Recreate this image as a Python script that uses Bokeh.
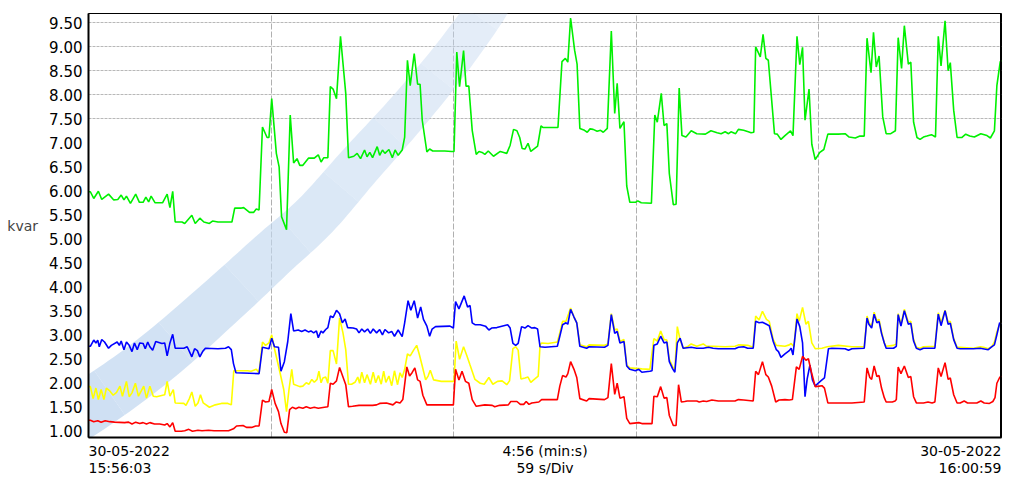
import numpy as np
from bokeh.plotting import figure
from bokeh.layouts import column
from bokeh.models import Range1d, FixedTicker, PolyAnnotation, NumeralTickFormatter, Span
from bokeh.core.properties import value
from bokeh.embed import file_html
from bokeh.resources import INLINE

# ---------------- data (time in seconds from 15:56:03, value in kvar) ----------------
green = [(0,5.98),(0.6,5.98),(1.7,5.84),(3.2,5.99),(4.3,5.82),(6.5,5.93),(8.2,5.81),(9.5,5.82),(10.6,5.91),
 (11.5,5.81),(12.3,5.89),(13.6,5.74),(15.3,5.93),(16.5,5.76),(17.7,5.76),(18.6,5.87),(19.5,5.77),(20.3,5.89),
 (21.6,5.75),(24.0,5.75),(25.5,5.93),(26.4,5.65),(27.3,5.99),(28.1,5.35),(30.3,5.35),(31.2,5.32),(33.5,5.49),
 (34.6,5.32),(36.1,5.43),(37.4,5.35),(39.2,5.32),(40.2,5.37),(42.0,5.35),(46.5,5.35),(47.4,5.64),(49.6,5.64),
 (50.3,5.65),(52.2,5.55),(53.5,5.55),(54.4,5.62),(55.3,5.60),(56.4,7.33),(57.9,7.11),(58.5,7.11),(59.4,7.92),
 (60.9,6.78),(61.8,6.50),(62.6,5.46),(64.2,5.19),(65.4,7.58),(66.5,6.58),(67.6,6.67),(68.5,6.53),(69.5,6.53),
 (71.3,6.68),(73.2,6.68),(74.5,6.75),(75.4,6.60),(76.3,6.69),(77.6,6.69),(78.4,8.17),(79.3,8.12),(80.4,7.92),
 (81.7,9.22),(83.4,8.03),(84.3,6.69),(86.0,6.72),(87.1,6.78),(88.2,6.67),(89.5,6.85),(90.3,6.71),(91.2,6.80),
 (92.1,6.69),(93.6,6.92),(94.4,6.74),(95.3,6.85),(96.1,6.78),(97.4,6.86),(98.5,6.69),(99.4,6.85),(100.4,6.74),
 (101.7,6.85),(102.5,7.12),(103.4,8.72),(104.3,8.19),(105.6,8.86),(106.7,8.22),(107.5,8.22),(108.2,7.47),
 (109.7,6.81),(110.6,6.87),(111.6,6.83),(115.5,6.83),(117.7,6.82),(118.5,6.82),(119.4,8.89),(120.3,8.17),
 (121.6,8.92),(122.4,8.18),(123.3,8.18),(124.4,7.26),(125.7,6.76),(126.6,6.82),(127.6,6.80),(128.5,6.76),
 (129.6,6.83),(131.3,6.72),(133.5,6.82),(134.6,6.80),(135.6,6.78),(136.7,6.95),(137.8,7.28),(138.9,7.25),
 (139.8,7.11),(140.6,6.88),(141.5,6.87),(142.5,6.99),(143.4,6.82),(145.6,6.93),(146.7,7.35),(147.3,7.32),
 (152.2,7.32),(153.5,8.69),(154.6,8.76),(155.4,8.68),(156.3,9.60),(157.6,8.93),(158.4,8.64),(159.3,7.30),
 (160.8,7.26),(161.7,7.22),(162.6,7.29),(163.6,7.28),(164.9,7.24),(166.0,7.26),(166.9,7.22),(168.2,7.30),
 (169.5,9.33),(170.6,7.61),(171.4,8.24),(172.3,7.30),(173.6,7.44),(174.5,6.10),(175.5,5.76),(177.3,5.76),
 (178.1,5.79),(179.2,5.75),(182.5,5.74),(183.6,7.58),(184.4,7.43),(185.7,8.03),(186.6,7.36),(187.5,7.40),
 (188.3,6.36),(189.6,5.71),(190.5,5.72),(191.5,8.14),(192.4,7.15),(193.7,7.12),(195.4,7.25),(197.2,7.19),
 (200.0,7.18),(201.8,7.25),(203.8,7.21),(205.1,7.19),(206.4,7.23),(207.5,7.19),(208.3,7.23),(209.8,7.19),
 (210.7,7.28),(212.4,7.26),(213.9,7.23),(214.8,7.21),(215.7,7.22),(216.3,9.00),(217.8,8.79),(218.7,9.26),
 (219.6,8.76),(220.4,8.72),(222.4,7.19),(223.3,7.18),(224.5,7.07),(225.8,7.15),(227.6,7.25),(228.4,7.15),
 (229.7,9.22),(230.6,8.63),(231.5,8.99),(232.3,7.47),(233.6,8.12),(234.5,6.97),(235.6,6.65),(237.1,6.80),
 (238.4,6.86),(239.7,7.18),(243.1,7.18),(245.3,7.19),(246.6,7.12),(248.6,7.10),(250.1,7.14),(251.5,7.14),
 (252.4,9.18),(253.7,8.46),(254.5,9.30),(255.4,8.58),(256.3,8.81),(257.5,7.54),(258.6,7.19),(260.1,7.19),
 (261.6,7.25),(262.5,9.19),(263.6,8.55),(264.5,9.44),(265.8,8.64),(266.6,8.68),(267.5,7.43),(268.6,7.11),
 (269.6,7.07),(270.7,7.12),(271.8,7.14),(273.3,7.17),(274.6,7.12),(275.5,9.22),(276.4,8.60),(277.7,9.54),
 (278.7,8.50),(279.4,8.67),(280.5,7.68),(281.6,7.11),(283.1,7.11),(284.4,7.18),(285.7,7.14),(287.2,7.12),
 (289.3,7.19),(291.3,7.15),(292.4,7.10),(293.7,7.25),(294.5,8.19),(295.6,8.69),(296.0,8.72)]

yellow = [(0,1.92),(0.6,1.92),(1.5,1.67),(2.4,1.89),(3.2,1.65),(4.1,1.86),(5.0,1.65),(5.8,1.89),(6.9,1.83),
 (8.0,1.74),(9.1,1.80),(10.2,1.93),(11.0,1.72),(12.3,2.03),(13.2,1.71),(14.1,1.79),(15.2,1.99),(16.2,1.72),
 (17.1,1.83),(17.9,1.93),(18.8,1.68),(19.9,1.93),(21.0,1.72),(22.1,1.71),(24.7,1.75),(25.5,2.03),(26.4,1.72),
 (27.5,1.86),(28.1,1.58),(30.9,1.57),(31.6,1.53),(32.7,1.67),(33.5,1.81),(34.6,1.51),(35.5,1.58),(36.3,1.75),
 (37.2,1.58),(39.2,1.49),(41.1,1.54),(43.1,1.57),(45.2,1.57),(46.3,1.54),(47.1,2.25),(51.6,2.25),(52.7,2.24),
 (54.4,2.28),(55.3,2.21),(56.4,2.85),(57.4,2.78),(58.5,2.83),(59.4,3.00),(60.3,2.71),(61.6,2.35),(62.4,2.12),
 (63.3,1.86),(64.2,1.40),(65.0,1.86),(65.9,2.28),(66.5,1.97),(68.5,1.92),(69.5,1.93),(70.6,2.00),(71.5,1.97),
 (72.4,2.07),(73.2,2.01),(74.1,2.07),(74.7,2.24),(75.4,2.00),(76.0,2.10),(76.9,2.12),(77.6,1.99),(78.4,2.67),
 (79.3,2.67),(80.4,2.39),(81.4,3.35),(82.5,3.04),(83.4,2.69),(84.3,1.97),(85.3,1.97),(86.4,2.01),(87.3,2.12),
 (87.9,1.99),(88.6,2.22),(89.5,2.00),(90.3,2.17),(91.4,1.97),(92.3,2.22),(93.1,2.00),(94.0,2.15),(94.9,1.97),
 (95.7,2.24),(96.4,2.01),(97.4,2.14),(98.3,1.94),(99.2,2.25),(100.2,1.96),(101.0,2.21),(101.7,2.11),(102.5,2.28),
 (103.4,2.60),(104.3,2.56),(105.4,2.68),(106.4,2.78),(107.3,2.58),(108.2,2.35),(109.3,2.06),(110.1,2.14),
 (110.8,2.26),(111.9,2.06),(114.4,2.03),(116.6,2.03),(118.5,2.03),(119.2,2.87),(120.3,2.49),(121.6,2.75),
 (122.7,2.56),(123.7,2.37),(125.3,2.07),(127.0,1.99),(128.3,1.97),(129.8,2.11),(131.1,1.97),(132.6,2.03),
 (134.1,2.04),(135.6,1.96),(136.5,2.04),(137.6,2.71),(138.5,2.75),(139.3,2.68),(140.2,2.08),(141.5,2.10),
 (142.5,2.12),(143.4,2.01),(144.7,2.08),(145.8,2.14),(146.4,2.79),(146.9,2.83),(149.0,2.82),(152.0,2.85),
 (152.8,3.04),(153.7,3.28),(154.8,3.28),(156.3,3.56),(157.4,3.37),(158.3,3.25),(159.3,2.79),(161.5,2.75),
 (162.3,2.79),(167.3,2.78),(168.4,2.81),(169.5,3.44),(170.6,3.10),(171.4,3.12),(172.3,2.86),(173.6,2.90),
 (174.5,2.37),(175.5,2.31),(179.4,2.29),(182.0,2.28),(183.3,2.92),(184.4,2.87),(185.5,3.08),(186.6,2.90),
 (187.5,2.89),(188.3,2.49),(189.4,2.33),(190.1,2.28),(190.9,3.17),(191.8,2.90),(192.8,2.72),(194.1,2.75),
 (195.4,2.81),(197.2,2.76),(199.3,2.81),(200.4,2.76),(202.5,2.76),(206.4,2.75),(209.6,2.76),(210.7,2.79),
 (213.7,2.78),(215.5,2.74),(216.3,3.39),(217.4,3.31),(218.5,3.49),(219.8,3.32),(220.7,3.28),(222.0,2.90),
 (223.0,2.78),(225.8,2.76),(227.2,2.79),(227.8,2.82),(228.7,2.75),(229.7,3.44),(230.4,3.28),(231.5,3.57),
 (232.6,3.22),(233.4,3.28),(234.5,2.83),(235.6,2.71),(237.8,2.72),(239.5,2.75),(243.1,2.78),(247.5,2.75),
 (251.5,2.75),(252.4,3.39),(253.0,3.26),(253.9,3.17),(254.7,3.47),(255.6,3.29),(256.3,3.32),(257.1,3.07),
 (258.0,2.83),(258.6,2.76),(261.0,2.78),(261.9,2.81),(262.5,3.44),(263.4,3.22),(264.5,3.53),(265.8,3.26),
 (266.6,3.28),(267.5,2.90),(268.4,2.74),(269.6,2.72),(270.7,2.75),(274.4,2.76),(275.5,3.46),(276.4,3.25),
 (277.7,3.51),(278.7,3.26),(279.4,3.28),(280.5,2.92),(281.6,2.74),(282.6,2.74),(286.9,2.72),(289.1,2.75),
 (290.2,2.74),(291.7,2.71),(292.8,2.75),(293.7,2.85),(294.5,3.06),(295.4,3.22),(296.0,3.25)]

blue = [(0,2.76),(0.6,2.76),(1.7,2.89),(2.4,2.83),(3.0,2.89),(3.5,2.75),(4.3,2.90),(5.2,2.85),(6.5,2.72),
 (7.4,2.78),(9.3,2.85),(10.0,2.78),(10.6,2.87),(11.5,2.69),(12.3,2.85),(13.2,2.78),(14.1,2.65),(14.9,2.83),
 (15.8,2.69),(16.6,2.83),(17.7,2.82),(18.4,2.71),(19.2,2.85),(19.9,2.75),(20.8,2.68),(21.8,2.86),(23.8,2.82),
 (24.7,2.83),(25.5,2.56),(26.4,2.83),(27.3,3.01),(28.1,2.72),(30.9,2.72),(32.0,2.75),(33.5,2.54),(34.4,2.71),
 (35.3,2.67),(36.1,2.54),(37.0,2.65),(37.9,2.72),(42.0,2.71),(44.4,2.72),(45.4,2.75),(46.3,2.69),(47.0,2.40),
 (47.8,2.21),(55.3,2.19),(56.4,2.74),(58.5,2.71),(59.4,2.93),(60.3,2.75),(61.6,2.74),(62.4,2.24),(63.5,2.44),
 (64.6,2.86),(65.6,3.44),(66.5,3.08),(68.0,3.10),(69.1,3.07),(70.2,3.10),(71.3,3.06),(72.1,3.08),(73.0,3.04),
 (73.9,3.08),(74.5,2.94),(75.4,3.08),(76.0,3.04),(76.9,3.11),(77.6,3.15),(78.4,3.39),(79.3,3.36),(80.4,3.51),
 (81.4,3.44),(82.3,3.25),(83.2,3.33),(84.0,3.15),(85.8,3.14),(86.9,3.12),(87.7,3.04),(88.6,3.12),(89.5,3.06),
 (90.5,3.12),(91.4,3.03),(92.3,3.12),(93.4,3.04),(94.4,3.11),(95.3,3.00),(96.1,3.11),(97.3,3.04),(98.3,3.07),
 (99.2,2.97),(100.4,3.10),(101.7,2.96),(102.5,3.25),(103.6,3.71),(104.5,3.51),(105.6,3.71),(106.7,3.35),
 (107.7,3.58),(108.6,3.32),(109.7,3.18),(110.6,2.97),(111.4,3.12),(112.5,3.17),(117.2,3.18),(118.3,3.14),
 (119.0,3.69),(120.1,3.54),(121.8,3.81),(122.9,3.58),(123.7,3.61),(124.4,3.25),(125.3,3.21),(127.0,3.21),
 (128.7,3.18),(129.8,3.10),(130.7,3.14),(132.4,3.15),(135.9,3.21),(136.7,3.14),(137.6,2.82),(138.5,2.78),
 (139.3,2.82),(140.4,3.17),(141.5,3.14),(142.5,3.19),(143.7,3.14),(144.7,3.15),(145.6,3.12),(146.4,2.75),
 (148.0,2.74),(152.0,2.76),(152.8,2.97),(153.7,3.21),(154.8,3.25),(155.4,3.22),(156.3,3.53),(157.4,3.37),
 (158.3,3.25),(159.3,2.76),(161.5,2.72),(162.3,2.75),(167.3,2.74),(168.4,2.78),(169.5,3.42),(170.6,3.03),
 (171.4,3.07),(172.3,2.83),(173.6,2.86),(174.5,2.35),(175.5,2.28),(177.3,2.25),(178.4,2.28),(179.4,2.22),
 (182.0,2.24),(182.7,2.25),(183.3,2.78),(184.4,2.81),(185.5,2.97),(186.6,2.83),(187.5,2.85),(188.3,2.44),
 (189.4,2.29),(190.1,2.22),(190.9,2.83),(191.8,2.93),(192.8,2.72),(195.4,2.74),(197.2,2.72),(199.3,2.72),
 (201.0,2.74),(202.5,2.72),(204.2,2.71),(209.6,2.71),(210.7,2.74),(212.4,2.75),(213.7,2.72),(215.5,2.72),
 (216.3,3.28),(217.4,3.25),(218.5,3.26),(219.8,3.22),(220.7,3.19),(222.0,2.86),(223.0,2.69),(223.7,2.65),
 (224.5,2.53),(225.8,2.60),(227.2,2.67),(227.8,2.72),(228.4,2.58),(229.7,3.33),(230.6,3.17),(231.5,2.83),
 (232.3,1.71),(233.0,2.08),(233.9,2.37),(234.7,2.06),(235.6,1.93),(236.7,2.00),(237.8,2.06),(238.6,2.10),
 (239.9,2.71),(241.0,2.72),(245.3,2.71),(246.4,2.68),(247.5,2.71),(251.5,2.72),(252.4,3.35),(253.0,3.22),
 (253.9,3.14),(254.7,3.43),(255.6,3.25),(256.3,3.28),(257.1,3.03),(258.0,2.83),(258.6,2.72),(261.0,2.72),
 (261.9,2.76),(262.5,3.42),(263.4,3.18),(264.5,3.50),(265.8,3.22),(266.6,3.24),(267.5,2.87),(268.4,2.72),
 (269.6,2.69),(270.7,2.72),(274.4,2.72),(275.5,3.43),(276.4,3.19),(277.7,3.50),(278.7,3.22),(279.4,3.24),
 (280.5,2.90),(281.6,2.72),(282.6,2.71),(286.9,2.71),(289.1,2.72),(291.7,2.69),(292.8,2.75),(293.7,2.79),
 (294.5,3.00),(295.4,3.25),(296.0,3.22)]

red = [(0,1.22),(0.6,1.22),(1.7,1.19),(3.0,1.21),(4.1,1.18),(5.4,1.21),(6.9,1.19),(8.4,1.18),(11.7,1.17),
 (13.0,1.18),(14.1,1.14),(15.3,1.18),(16.6,1.15),(17.7,1.17),(18.8,1.14),(19.9,1.17),(21.4,1.14),(23.1,1.14),
 (24.7,1.12),(25.5,1.15),(26.4,1.08),(27.3,1.17),(28.1,0.99),(30.1,0.99),(31.2,1.00),(32.5,1.03),(33.7,0.99),
 (35.5,1.01),(36.8,1.00),(38.9,1.01),(40.7,1.00),(45.4,1.00),(47.0,1.04),(48.0,1.10),(50.1,1.11),(51.2,1.07),
 (52.9,1.07),(54.2,1.10),(55.3,1.10),(56.4,1.64),(57.4,1.60),(58.5,1.61),(59.4,1.86),(60.5,1.57),(61.6,1.40),
 (62.4,1.15),(63.5,0.97),(64.3,0.96),(65.2,1.44),(66.1,1.49),(67.2,1.46),(68.2,1.49),(69.5,1.47),(70.6,1.50),
 (71.9,1.47),(73.2,1.49),(74.5,1.47),(76.5,1.49),(77.6,1.50),(78.4,1.99),(79.3,1.97),(80.4,2.04),(81.4,2.32),
 (82.5,2.12),(83.4,1.96),(84.3,1.50),(85.6,1.51),(87.7,1.53),(89.7,1.53),(92.1,1.53),(93.4,1.54),(94.4,1.57),
 (96.6,1.58),(98.7,1.54),(99.8,1.60),(101.0,1.58),(101.9,1.65),(103.2,2.33),(104.1,2.14),(104.9,2.21),
 (105.8,2.31),(106.7,2.06),(107.5,2.03),(108.4,1.74),(109.7,1.54),(118.3,1.54),(119.0,2.28),(120.1,2.06),
 (121.1,2.24),(122.2,2.03),(123.3,1.99),(124.4,1.65),(125.7,1.51),(128.5,1.54),(130.9,1.53),(131.7,1.50),
 (133.3,1.53),(136.1,1.54),(136.9,1.61),(138.9,1.61),(140.0,1.55),(141.1,1.55),(141.9,1.61),(142.8,1.55),
 (143.7,1.58),(146.0,1.60),(146.9,1.65),(152.0,1.65),(152.8,1.93),(153.7,2.15),(154.8,2.12),(155.4,2.19),
 (156.3,2.44),(157.4,2.28),(158.3,2.11),(159.3,1.67),(161.5,1.62),(162.3,1.67),(167.3,1.65),(168.4,1.69),
 (169.5,2.40),(170.6,1.76),(171.4,1.99),(172.3,1.68),(173.6,1.71),(174.5,1.26),(175.5,1.15),(178.4,1.17),
 (179.4,1.15),(182.7,1.15),(183.3,1.72),(184.4,1.71),(185.5,1.92),(186.6,1.68),(187.5,1.69),(188.3,1.32),
 (189.6,1.11),(190.5,1.11),(191.3,1.96),(192.2,1.60),(193.3,1.61),(194.1,1.62),(197.2,1.62),(198.0,1.60),
 (199.3,1.62),(200.4,1.61),(202.1,1.64),(204.2,1.62),(209.6,1.62),(210.7,1.65),(212.4,1.64),(215.5,1.62),
 (216.3,2.24),(217.2,2.17),(218.5,2.44),(219.6,2.17),(220.4,2.12),(221.5,1.93),(222.8,1.60),(223.9,1.64),
 (225.8,1.65),(227.2,1.64),(228.2,1.65),(229.5,2.33),(230.4,2.28),(231.5,2.55),(232.6,2.47),(233.4,2.50),
 (234.3,2.24),(235.6,1.92),(236.9,1.93),(237.8,1.94),(238.6,1.89),(239.7,1.58),(242.1,1.58),(247.5,1.58),
 (251.5,1.60),(252.4,2.31),(253.3,2.11),(253.9,2.07),(254.7,2.35),(255.6,2.13),(256.3,2.15),(257.1,1.89),
 (258.0,1.69),(258.6,1.60),(260.6,1.60),(261.5,1.62),(261.9,1.65),(262.5,2.33),(263.4,2.19),(264.5,2.35),
 (265.8,2.11),(266.6,2.13),(267.5,1.71),(268.4,1.58),(270.7,1.58),(272.2,1.60),(273.5,1.58),(274.4,1.60),
 (275.5,2.31),(276.4,2.13),(277.7,2.42),(278.7,2.07),(279.4,2.10),(280.5,1.75),(281.6,1.58),(282.6,1.58),
 (283.9,1.62),(285.0,1.58),(288.0,1.58),(289.3,1.62),(290.4,1.58),(292.1,1.57),(293.2,1.61),(293.9,1.69),
 (294.5,1.99),(295.4,2.11),(296.0,2.14)]

y_ticks = [1.0, 1.5, 2.0, 2.5, 3.0, 3.5, 4.0, 4.5, 5.0, 5.5, 6.0, 6.5, 7.0, 7.5, 8.0, 8.5, 9.0, 9.5]
y_grid_ticks = [7.5, 8.0, 8.5, 9.0, 9.5]
x_div_ticks = [59.2, 118.4, 177.6, 236.8]
y_label = "kvar"
left_lines = ["30-05-2022", "15:56:03"]
mid_lines = ["4:56 (min:s)", "59 s/Div"]
right_lines = ["30-05-2022", "16:00:59"]
T_END = 296

FONT = "DejaVu Sans"
W = 1008

p = figure(width=W, height=441, output_backend="svg", toolbar_location=None,
           x_range=Range1d(0, T_END), y_range=Range1d(0.86, 9.694),
           min_border_left=88, min_border_right=7, min_border_top=13, min_border_bottom=4)
p.background_fill_color = "white"
p.border_fill_color = "white"
p.outline_line_color = "black"
p.outline_line_width = 1

# watermark swoosh (decoration, canvas pixels)
ctrl = np.array([(-30, 468), (40, 436), (100, 400), (160, 356), (224, 300), (274, 254),
                 (316, 216), (360, 166), (405, 116), (448, 64), (486, 12), (497, -8)], float) - 1.0
def catmull(pts, n=12):
    out = []
    P = np.vstack([pts[0], pts, pts[-1]])
    for i in range(1, len(P) - 2):
        p0, p1, p2, p3 = P[i-1], P[i], P[i+1], P[i+2]
        for s in np.linspace(0, 1, n, endpoint=False):
            out.append(0.5*((2*p1) + (-p0+p2)*s + (2*p0-5*p1+4*p2-p3)*s*s + (-p0+3*p1-3*p2+p3)*s**3))
    out.append(pts[-1])
    return np.array(out)
cen = catmull(ctrl)
d = np.gradient(cen, axis=0)
nrm = np.stack([-d[:, 1], d[:, 0]], axis=1)
nrm /= np.linalg.norm(nrm, axis=1)[:, None]
hw = np.linspace(29, 19, len(cen))[:, None]
L = cen + nrm*hw
R = cen - nrm*hw
nseg = 10
idx = np.linspace(0, len(cen)-1, nseg+1).astype(int)
for k in range(nseg):
    a, b = idx[k], idx[k+1] + 1
    xs = list(L[a:b, 0]) + list(R[a:b, 0][::-1])
    ys = list(L[a:b, 1]) + list(R[a:b, 1][::-1])
    alpha = 0.85 - 0.45*k/(nseg-1)
    p.add_layout(PolyAnnotation(xs=xs, ys=ys, xs_units="canvas", ys_units="canvas",
                                fill_color="#c3d8f0", fill_alpha=alpha, line_alpha=0,
                                level="underlay"))

# axes
p.yaxis.ticker = FixedTicker(ticks=y_ticks)
p.yaxis.formatter = NumeralTickFormatter(format="0.00")
p.yaxis.major_label_text_font = FONT
p.yaxis.major_label_text_font_size = "15px"
p.yaxis.major_label_text_color = "black"
p.yaxis.axis_line_width = 2
p.yaxis.axis_line_color = "black"
p.yaxis.major_tick_in = 0
p.yaxis.major_tick_out = 0
p.yaxis.minor_tick_line_color = None
p.yaxis.major_label_standoff = 6
p.yaxis.axis_label = y_label
p.yaxis.axis_label_text_font = FONT
p.yaxis.axis_label_text_font_size = "14px"
p.yaxis.axis_label_text_font_style = "normal"
p.yaxis.axis_label_standoff = 8
try:
    p.yaxis.axis_label_orientation = "horizontal"
except Exception:
    pass

p.xaxis.ticker = FixedTicker(ticks=[])
p.xaxis.major_label_text_font_size = "0px"
p.xaxis.major_label_standoff = 0
p.xaxis.axis_line_width = 2
p.xaxis.axis_line_color = "black"
p.xaxis.major_tick_line_color = None
p.xaxis.minor_tick_line_color = None

p.ygrid.ticker = FixedTicker(ticks=y_grid_ticks)
p.ygrid.grid_line_color = "#b8b8b8"
p.ygrid.grid_line_dash = "3 1"
p.xgrid.ticker = FixedTicker(ticks=x_div_ticks)
p.xgrid.grid_line_color = "#b0b0b0"
p.xgrid.grid_line_dash = "6 2"

p.add_layout(Span(location=T_END, dimension="height", line_color="black", line_width=3))

def draw(pts, color):
    t = [a for a, b in pts]
    v = [b for a, b in pts]
    p.line(t, v, line_color=color, line_width=1.6)

draw(green, "#00f000")
draw(yellow, "#ffff00")
draw(blue, "#0000ff")
draw(red, "#ff0000")

# bottom caption strip sharing the time axis
p2 = figure(width=W, height=40, output_backend="svg", toolbar_location=None,
            x_range=p.x_range, y_range=Range1d(40, 0),
            min_border_left=88, min_border_right=7, min_border_top=0, min_border_bottom=0,
            x_axis_type=None, y_axis_type=None)
p2.outline_line_color = None
p2.grid.visible = False
for xs_, align, lines in [(0, "left", left_lines), (T_END/2, "center", mid_lines), (T_END, "right", right_lines)]:
    p2.text(x=[xs_, xs_], y=[9, 26], text=lines, text_font=value(FONT), text_font_size="14px",
            text_align=align, text_baseline="middle", text_color="black")

open("out.html", "w").write(file_html(column(p, p2), INLINE))
